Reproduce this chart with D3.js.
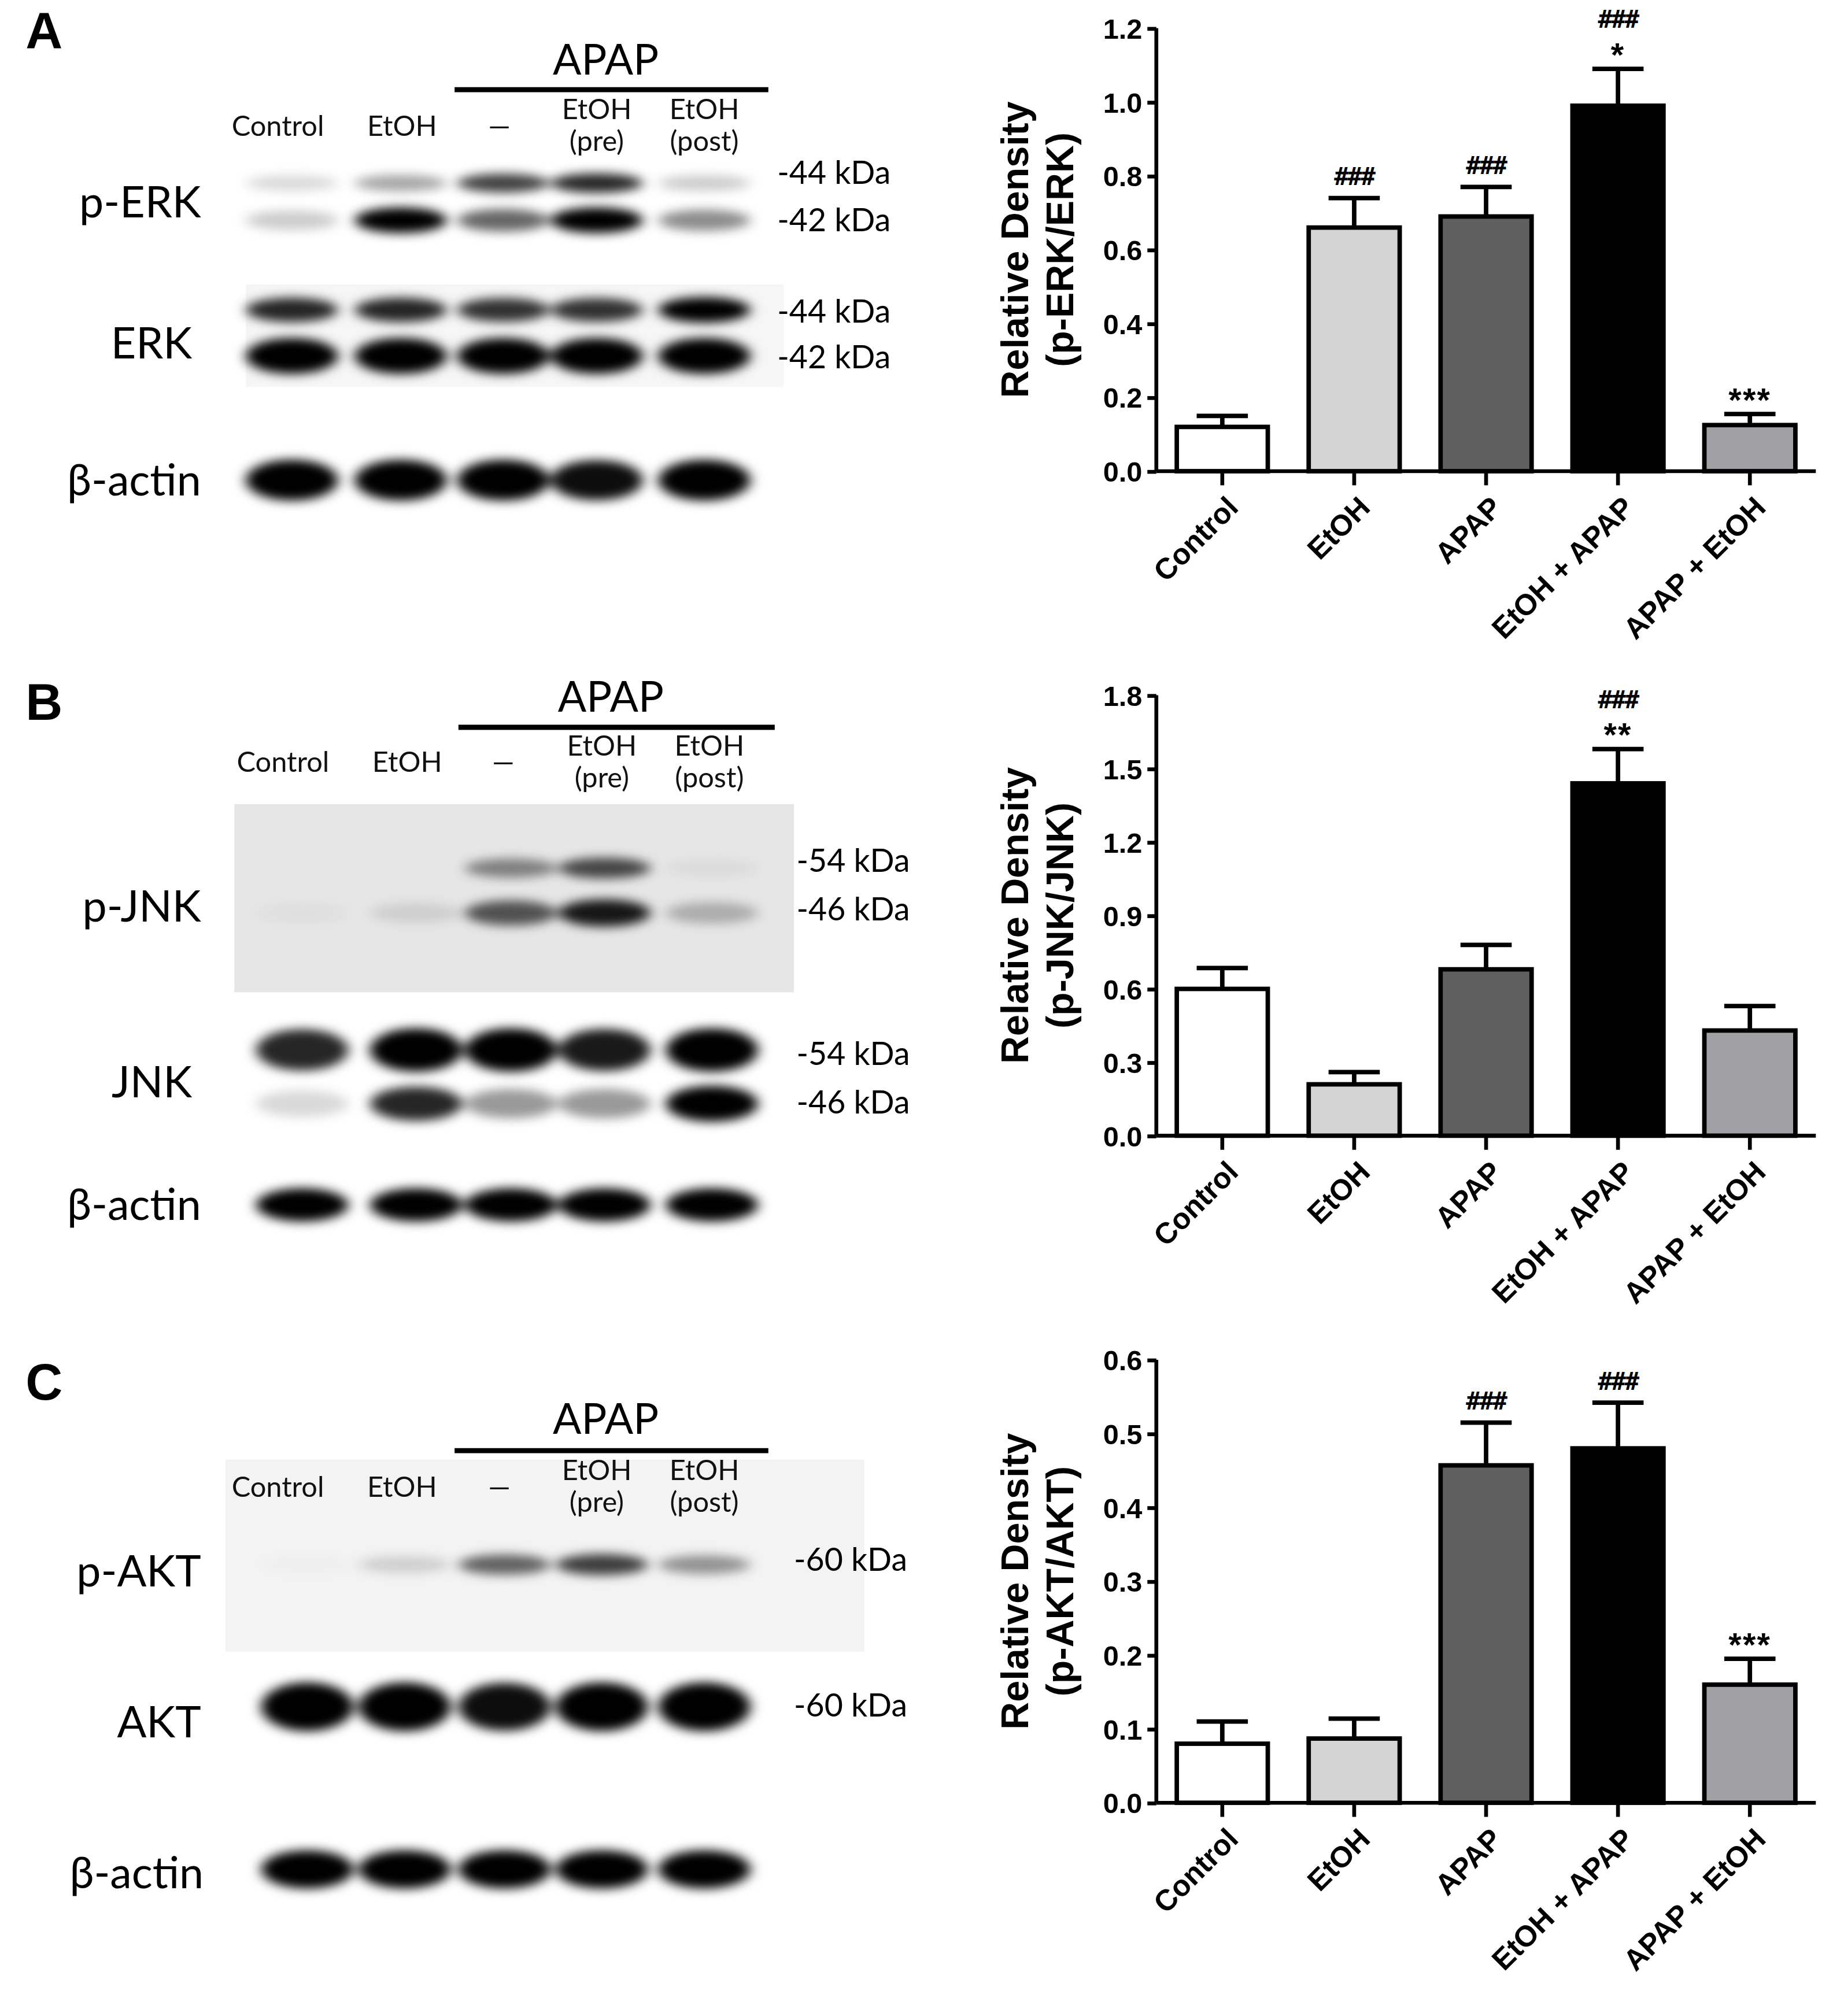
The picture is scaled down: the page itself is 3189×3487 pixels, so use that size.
<!DOCTYPE html>
<html><head><meta charset="utf-8">
<script src="https://cdn.jsdelivr.net/npm/d3@7"></script>
<style>body{margin:0;background:#fff}</style>
</head><body>
<script>
// ---- data ----
const groups = ["Control", "EtOH", "APAP", "EtOH + APAP", "APAP + EtOH"];
const barColors = ["#ffffff", "#d4d4d4", "#5f5f5f", "#000000", "#a1a1a5"];

const erkMean = [0.12, 0.66, 0.69, 0.99, 0.125];
const erkErr = [0.03, 0.08, 0.08, 0.10, 0.03];
const erkMarks = [[], ["###"], ["###"], ["###", "*"], ["***"]];
const erkTicks = [0, 0.2, 0.4, 0.6, 0.8, 1.0, 1.2];

const jnkMean = [0.60, 0.21, 0.68, 1.44, 0.43];
const jnkErr = [0.085, 0.05, 0.10, 0.14, 0.10];
const jnkMarks = [[], [], [], ["###", "**"], []];
const jnkTicks = [0, 0.3, 0.6, 0.9, 1.2, 1.5, 1.8];

const aktMean = [0.08, 0.087, 0.457, 0.48, 0.16];
const aktErr = [0.03, 0.027, 0.058, 0.062, 0.035];
const aktMarks = [[], [], ["###"], ["###"], ["***"]];
const aktTicks = [0, 0.1, 0.2, 0.3, 0.4, 0.5, 0.6];

const lanes = ["Control", "EtOH", "—", "EtOH\n(pre)", "EtOH\n(post)"];
// band intensity per lane (0..1)
const pErk44 = [0.15, 0.35, 0.75, 0.85, 0.2];
const pErk42 = [0.2, 1, 0.6, 1, 0.45];
const erk44 = [0.85, 0.85, 0.8, 0.8, 1];
const erk42 = [1, 1, 1, 1, 1];
const actinA = [1, 1, 1, 0.95, 1];
const pJnk54 = [0, 0, 0.45, 0.7, 0.05];
const pJnk46 = [0.03, 0.1, 0.65, 0.9, 0.25];
const jnk54 = [0.85, 1, 1, 0.9, 1];
const jnk46 = [0.15, 0.85, 0.4, 0.4, 1];
const actinB = [1, 1, 1, 1, 1];
const pAkt60 = [0.02, 0.15, 0.6, 0.75, 0.4];
const akt60 = [1, 1, 0.95, 1, 1];
const actinC = [1, 1, 1, 1, 1];

const W = 1440, H = 1574.5;
const svg = d3.select("body").append("svg")
  .attr("width", 3189).attr("height", 3487)
  .attr("viewBox", `0 0 ${W} ${H}`);

const defs = svg.append("defs");
defs.append("filter").attr("id", "blur").attr("x", "-30%").attr("y", "-100%")
  .attr("width", "160%").attr("height", "300%")
  .append("feGaussianBlur").attr("stdDeviation", "5 4");

const sansBold = "'Liberation Sans', Arial, sans-serif";
const blotFont = "Lato, 'Open Sans', sans-serif";

// ---- bar charts ----
function barChart(top, bottom, mean, err, marks, ticks, ylab) {
  const x0 = 903, x1 = 1418;
  const g = svg.append("g");
  const x = d3.scaleBand().domain(groups).range([x0, x1]).paddingInner(0.31).paddingOuter(0.155);
  const y = d3.scaleLinear().domain([0, ticks[ticks.length - 1]]).range([bottom, top]);
  const bw = x.bandwidth();

  groups.forEach((c, i) => {
    const cx = x(c) + bw / 2;
    const yt = y(mean[i]), ye = y(mean[i] + err[i]);
    g.append("line").attr("x1", cx).attr("x2", cx).attr("y1", yt).attr("y2", ye)
      .attr("stroke", "#000").attr("stroke-width", 3.5);
    g.append("line").attr("x1", cx - 20).attr("x2", cx + 20).attr("y1", ye).attr("y2", ye)
      .attr("stroke", "#000").attr("stroke-width", 3.5);
    g.append("rect").attr("x", x(c)).attr("y", yt).attr("width", bw).attr("height", bottom - yt)
      .attr("fill", barColors[i]).attr("stroke", "#000").attr("stroke-width", 3.5);
    marks[i].forEach((m, k) => {
      const isHash = m[0] === "#";
      const yy = ye - 10 - (marks[i].length - 1 - k) * 22;
      g.append("text").attr("x", cx).attr("y", yy + (isHash ? 0 : 8))
        .attr("text-anchor", "middle").attr("font-family", isHash ? "'DejaVu Sans Mono', monospace" : sansBold)
        .attr("font-weight", "bold").attr("font-size", isHash ? 19 : 26)
        .attr("letter-spacing", isHash ? -1 : 1).text(m);
    });
  });

  const ya = g.append("g").attr("transform", `translate(${x0},0)`)
    .call(d3.axisLeft(y).tickValues(ticks).tickFormat(d3.format(".1f")).tickSize(7));
  ya.select(".domain").attr("stroke-width", 3).attr("d", `M-0,${top}V${bottom}`);
  ya.selectAll("line").attr("stroke-width", 3);
  ya.selectAll("text").attr("font-family", sansBold).attr("font-weight", "bold")
    .attr("font-size", 22).attr("dx", -1).attr("dy", "0.35em").attr("y", 0);

  const xa = g.append("g").attr("transform", `translate(0,${bottom})`)
    .call(d3.axisBottom(x).tickSize(11));
  xa.select(".domain").attr("stroke-width", 3).attr("d", `M${x0},0H${x1}`);
  xa.selectAll("line").attr("stroke-width", 3);
  xa.selectAll("text").attr("font-family", sansBold).attr("font-weight", "bold")
    .attr("font-size", 23).attr("text-anchor", "end")
    .attr("transform", "translate(8,24) rotate(-45)").attr("y", 0).attr("dy", "0.35em");

  const my = (top + bottom) / 2;
  g.append("text").attr("transform", `translate(803,${my}) rotate(-90)`).attr("text-anchor", "middle")
    .attr("font-family", sansBold).attr("font-weight", "bold").attr("font-size", 30).text("Relative Density");
  g.append("text").attr("transform", `translate(838,${my}) rotate(-90)`).attr("text-anchor", "middle")
    .attr("font-family", sansBold).attr("font-weight", "bold").attr("font-size", 30).text(ylab);
}

barChart(22, 368, erkMean, erkErr, erkMarks, erkTicks, "(p-ERK/ERK)");
barChart(543, 887, jnkMean, jnkErr, jnkMarks, jnkTicks, "(p-JNK/JNK)");
barChart(1062, 1408, aktMean, aktErr, aktMarks, aktTicks, "(p-AKT/AKT)");

// ---- blots ----
function header(letter, ly, apapX, apapY, lineY, lineX0, lineX1, laneX, labY) {
  svg.append("text").attr("x", 20).attr("y", ly).attr("font-family", sansBold).attr("font-weight", "bold")
    .attr("font-size", 40).text(letter);
  svg.append("text").attr("x", apapX).attr("y", apapY).attr("text-anchor", "middle")
    .attr("font-family", blotFont).attr("font-size", 33).text("APAP");
  svg.append("line").attr("x1", lineX0).attr("x2", lineX1).attr("y1", lineY).attr("y2", lineY)
    .attr("stroke", "#000").attr("stroke-width", 4);
  lanes.forEach((l, i) => {
    const parts = l.split("\n");
    parts.forEach((p, k) => {
      const yy = parts.length === 1 ? labY + 9 : labY - 4 + k * 25;
      svg.append("text").attr("x", laneX[i]).attr("y", yy).attr("text-anchor", "middle")
        .attr("font-family", blotFont).attr("font-size", 22).attr("fill", "#111").text(p);
    });
  });
}

function bands(laneX, yc, h, inten, w) {
  const g = svg.append("g").attr("filter", "url(#blur)");
  inten.forEach((v, i) => {
    if (v <= 0) return;
    g.append("ellipse").attr("cx", laneX[i]).attr("cy", yc).attr("rx", (w || 72) / 2)
      .attr("ry", h / 2 * (0.7 + 0.3 * v)).attr("fill", "#000").attr("opacity", Math.min(1, v));
  });
}

function rowLabel(t, x, y) {
  svg.append("text").attr("x", x).attr("y", y).attr("text-anchor", "end").attr("dy", "0.35em")
    .attr("font-family", blotFont).attr("font-size", 34).text(t);
}
function kda(t, x, y) {
  svg.append("text").attr("x", x).attr("y", y).attr("dy", "0.35em")
    .attr("font-family", blotFont).attr("font-size", 25).text(t);
}

// A
const laneA = [228, 313, 393, 466, 550];
svg.append("rect").attr("x", 192).attr("y", 222).attr("width", 420).attr("height", 80).attr("fill", "#f6f6f6");
header("A", 38, 473, 58, 70, 355, 600, [217, 314, 390, 466, 550], 97);
bands(laneA, 143, 16, pErk44);
bands(laneA, 172, 20, pErk42);
bands(laneA, 242, 20, erk44);
bands(laneA, 278, 28, erk42);
bands(laneA, 375, 32, actinA);
rowLabel("p-ERK", 157, 158); rowLabel("ERK", 150, 268); rowLabel("β-actin", 157, 375);
kda("-44 kDa", 607, 135); kda("-42 kDa", 607, 172); kda("-44 kDa", 607, 243); kda("-42 kDa", 607, 279);

// B
const laneB = [236, 325, 399, 472, 556];
svg.append("rect").attr("x", 183).attr("y", 628).attr("width", 437).attr("height", 147).attr("fill", "#e6e6e6");
header("B", 562, 477, 556, 568, 358, 605, [221, 318, 393, 470, 554], 594);
bands(laneB, 678, 18, pJnk54);
bands(laneB, 713, 22, pJnk46);
bands(laneB, 820, 34, jnk54);
bands(laneB, 862, 28, jnk46);
bands(laneB, 941, 26, actinB);
rowLabel("p-JNK", 157, 708); rowLabel("JNK", 150, 845); rowLabel("β-actin", 157, 941);
kda("-54 kDa", 622, 672); kda("-46 kDa", 622, 710); kda("-54 kDa", 622, 823); kda("-46 kDa", 622, 861);

// C
const laneC = [240, 316, 394, 470, 550];
svg.append("rect").attr("x", 176).attr("y", 1140).attr("width", 499).attr("height", 150).attr("fill", "#f3f3f3");
header("C", 1093, 473, 1120, 1133, 355, 600, [217, 314, 390, 466, 550], 1160);
bands(laneC, 1222, 18, pAkt60);
bands(laneC, 1333, 38, akt60);
bands(laneC, 1460, 30, actinC);
rowLabel("p-AKT", 157, 1227); rowLabel("AKT", 157, 1345); rowLabel("β-actin", 159, 1463);
kda("-60 kDa", 620, 1218); kda("-60 kDa", 620, 1332);
</script>
</body></html>
